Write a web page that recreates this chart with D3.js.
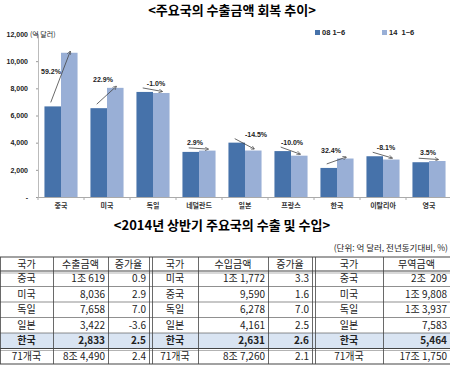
<!DOCTYPE html>
<html>
<head>
<meta charset="utf-8">
<script src="https://cdn.jsdelivr.net/npm/d3@7"></script>
<style>
    body { margin: 0; background: #fff; }
    text { font-family: "Noto Sans CJK KR", "Noto Sans", sans-serif; }
</style>
</head>
<body>
<script>
//chart data: 1~6 month exports (100 million USD)
var countries = ["중국", "미국", "독일", "네덜란드", "일본", "프랑스", "한국", "이탈리아", "영국"];
var exp08 = [6670, 6539, 7735, 3320, 4002, 3380, 2140, 3000, 2560];
var exp14 = [10619, 8036, 7658, 3416, 3422, 3042, 2833, 2757, 2650];
var growth = ["59.2%", "22.9%", "-1.0%", "2.9%", "-14.5%", "-10.0%", "32.4%", "-8.1%", "3.5%"];
var yTicks = [0, 2000, 4000, 6000, 8000, 10000, 12000];
var seriesNames = ["08 1~6", "14  1~6"];

//table data
var exportCountries = ["중국", "미국", "독일", "일본", "한국", "71개국"];
var exportAmounts = ["1조 619", "8,036", "7,658", "3,422", "2,833", "8조 4,490"];
var exportGrowth = ["0.9", "2.9", "7.0", "-3.6", "2.5", "2.4"];
var importCountries = ["미국", "중국", "독일", "일본", "한국", "71개국"];
var importAmounts = ["1조 1,772", "9,590", "6,278", "4,161", "2,631", "8조 7,260"];
var importGrowth = ["3.3", "1.6", "7.0", "2.5", "2.6", "2.1"];
var tradeCountries = ["중국", "미국", "독일", "일본", "한국", "71개국"];
var tradeAmounts = ["2조  209", "1조 9,808", "1조 3,937", "7,583", "5,464", "17조 1,750"];
var headers = ["국가", "수출금액", "증가율", "국가", "수입금액", "증가율", "국가", "무역금액"];

//label nudges (layout only)
var labelDx = [-10, -4, 3, -4, 11, 1, -6, 3, -1];
var labelDy = [27, 0, 0, 0, 0, 0, 0, 0, 0];

var w = 450, h = 371;
var dark = "#4672aa", light = "#99afd6";

var svg = d3.select("body")
    .append("svg")
    .attr("width", w)
    .attr("height", h);

//titles
svg.append("text")
    .attr("x", 232)
    .attr("y", 15)
    .attr("text-anchor", "middle")
    .style("font-size", "13px")
    .style("font-weight", "bold")
    .text("<주요국의 수출금액 회복 추이>");

//scales
var x = d3.scaleBand()
    .domain(countries)
    .range([38, 452]);

var xs = d3.scaleBand()
    .domain([0, 1])
    .range([0, x.bandwidth()])
    .paddingInner(0)
    .paddingOuter(0.39);

var y = d3.scaleLinear()
    .domain([0, 12000])
    .range([197, 34]);

//y axis
var yAxis = svg.append("g")
    .attr("class", "yaxis")
    .attr("transform", "translate(38,0)")
    .call(d3.axisLeft(y)
        .tickValues(yTicks)
        .tickSize(2)
        .tickPadding(8)
        .tickFormat(function(d){ return d === 0 ? "-" : d3.format(",")(d); }));
yAxis.select(".domain").attr("stroke", "#bbb");
yAxis.selectAll("line").attr("stroke", "#999");
yAxis.selectAll("text")
    .style("font-size", "7px")
    .style("font-weight", "bold")
    .style("font-family", "Liberation Sans, Arial, sans-serif")
    .attr("fill", "#222");

svg.append("text")
    .attr("x", 30)
    .attr("y", 37)
    .style("font-size", "7px")
    .attr("fill", "#222")
    .text("(억 달러)");

//x axis
var xAxis = svg.append("g")
    .attr("class", "xaxis")
    .attr("transform", "translate(0,197)")
    .call(d3.axisBottom(x).tickSize(0).tickPadding(6));
xAxis.select(".domain").attr("stroke", "#aaa");
xAxis.selectAll("text")
    .style("font-size", "7px")
    .style("font-weight", "bold")
    .attr("fill", "#333");
svg.selectAll(".xsep")
    .data(countries.concat([""]))
    .enter()
    .append("line")
    .attr("class", "xsep")
    .attr("x1", function(d, i){ return 38 + i * x.step(); })
    .attr("x2", function(d, i){ return 38 + i * x.step(); })
    .attr("y1", 197)
    .attr("y2", 200)
    .attr("stroke", "#aaa");

//bars
var groups = svg.selectAll(".grp")
    .data(countries)
    .enter()
    .append("g")
    .attr("class", "grp")
    .attr("transform", function(d){ return "translate(" + x(d) + ",0)"; });

groups.append("rect")
    .attr("x", xs(0))
    .attr("width", xs.bandwidth())
    .attr("y", function(d, i){ return y(exp08[i]); })
    .attr("height", function(d, i){ return 197 - y(exp08[i]); })
    .attr("fill", dark);

groups.append("rect")
    .attr("x", xs(1))
    .attr("width", xs.bandwidth())
    .attr("y", function(d, i){ return y(exp14[i]); })
    .attr("height", function(d, i){ return 197 - y(exp14[i]); })
    .attr("fill", light);

//arrows
svg.append("defs").append("marker")
    .attr("id", "arr")
    .attr("viewBox", "0 0 10 10")
    .attr("refX", 9)
    .attr("refY", 5)
    .attr("markerWidth", 5)
    .attr("markerHeight", 5)
    .attr("orient", "auto")
    .append("path")
    .attr("d", "M0,0 L10,5 L0,10")
    .attr("fill", "none")
    .attr("stroke", "#444")
    .attr("stroke-width", 1.5);

groups.append("line")
    .attr("x1", xs(0) + xs.bandwidth() / 2 - 2)
    .attr("y1", function(d, i){ return y(exp08[i]) - 4; })
    .attr("x2", xs(1) + xs.bandwidth() / 2 + 1)
    .attr("y2", function(d, i){ return y(exp14[i]) - 1.5; })
    .attr("stroke", "#444")
    .attr("stroke-width", 0.8)
    .attr("marker-end", "url(#arr)");

groups.append("text")
    .attr("x", function(d, i){ return x.bandwidth() / 2 + labelDx[i]; })
    .attr("y", function(d, i){ return y(Math.max(exp08[i], exp14[i])) - 6 + labelDy[i]; })
    .attr("text-anchor", "middle")
    .style("font-size", "7px")
    .style("font-weight", "bold")
    .style("font-family", "Liberation Sans, Arial, sans-serif")
    .attr("fill", "#222")
    .text(function(d, i){ return growth[i]; });

//legend
var legend = svg.selectAll(".legend")
    .data(seriesNames)
    .enter()
    .append("g")
    .attr("class", "legend")
    .attr("transform", function(d, i){ return "translate(" + (315 + i * 67) + ",30)"; });
legend.append("rect")
    .attr("width", 5)
    .attr("height", 5)
    .attr("fill", function(d, i){ return i ? light : dark; });
legend.append("text")
    .attr("x", 7)
    .attr("y", 5)
    .style("font-size", "7.5px")
    .style("font-weight", "bold")
    .style("font-family", "Liberation Sans, Arial, sans-serif")
    .attr("fill", "#222")
    .attr("xml:space", "preserve")
    .text(function(d){ return d; });

//second title
svg.append("text")
    .attr("x", 222)
    .attr("y", 230)
    .attr("text-anchor", "middle")
    .style("font-size", "13px")
    .style("font-weight", "bold")
    .text("<2014년 상반기 주요국의 수출 및 수입>");

svg.append("text")
    .attr("x", 448)
    .attr("y", 251)
    .attr("text-anchor", "end")
    .style("font-size", "8.5px")
    .attr("fill", "#222")
    .text("(단위: 억 달러, 전년동기대비, %)");

//table
var colX = [0, 53, 108, 149, 152, 198, 268, 312, 315, 383, 450];
var cellCols = [[0, 53], [53, 108], [108, 149], [152, 198], [198, 268], [268, 312], [315, 383], [383, 450]];
var rowY = [257, 271, 286.5, 302, 317.5, 333, 348.5, 364];
var aligns = ["middle", "end", "end", "middle", "end", "end", "middle", "end"];

var columns = [exportCountries, exportAmounts, exportGrowth, importCountries, importAmounts, importGrowth, tradeCountries, tradeAmounts];

var table = svg.append("g").attr("class", "table");

//highlight row (한국)
table.append("rect")
    .attr("x", 0)
    .attr("y", rowY[5])
    .attr("width", 450)
    .attr("height", rowY[6] - rowY[5])
    .attr("fill", "#d9e4f2");

//horizontal lines
table.selectAll(".hline")
    .data(rowY)
    .enter()
    .append("line")
    .attr("class", "hline")
    .attr("x1", 0)
    .attr("x2", 450)
    .attr("y1", function(d){ return d; })
    .attr("y2", function(d){ return d; })
    .attr("stroke", "#444")
    .attr("stroke-width", function(d, i){ return (i === 0 || i === 1 || i === 6 || i === 7) ? 1.2 : 0.6; });
table.selectAll(".hline2")
    .data([rowY[1] + 2, rowY[6] + 2])
    .enter()
    .append("line")
    .attr("class", "hline2")
    .attr("x1", 0)
    .attr("x2", 450)
    .attr("y1", function(d){ return d; })
    .attr("y2", function(d){ return d; })
    .attr("stroke", "#666")
    .attr("stroke-width", 0.5);

//vertical lines
table.selectAll(".vline")
    .data(colX)
    .enter()
    .append("line")
    .attr("class", "vline")
    .attr("x1", function(d){ return d + 0.5; })
    .attr("x2", function(d){ return d + 0.5; })
    .attr("y1", rowY[0])
    .attr("y2", rowY[7])
    .attr("stroke", "#444")
    .attr("stroke-width", 0.8);

//header
table.selectAll(".hdr")
    .data(headers)
    .enter()
    .append("text")
    .attr("class", "hdr")
    .attr("x", function(d, i){ return (cellCols[i][0] + cellCols[i][1]) / 2; })
    .attr("y", (rowY[0] + rowY[1]) / 2 + 3.5)
    .attr("text-anchor", "middle")
    .style("font-size", "10px")
    .attr("fill", "#222")
    .text(function(d){ return d; });

//cells
columns.forEach(function(col, c){
    table.selectAll(".cell" + c)
        .data(col)
        .enter()
        .append("text")
        .attr("class", "cell" + c)
        .attr("x", function(){
            return aligns[c] === "middle" ? (cellCols[c][0] + cellCols[c][1]) / 2 : cellCols[c][1] - 3;
        })
        .attr("y", function(d, i){ return (rowY[i + 1] + rowY[i + 2]) / 2 + 3.5; })
        .attr("text-anchor", aligns[c])
        .attr("xml:space", "preserve")
        .style("font-size", "10px")
        .style("font-weight", function(d, i){ return i === 4 ? "bold" : "normal"; })
        .attr("fill", "#222")
        .text(function(d){ return d; });
});
</script>
</body>
</html>
